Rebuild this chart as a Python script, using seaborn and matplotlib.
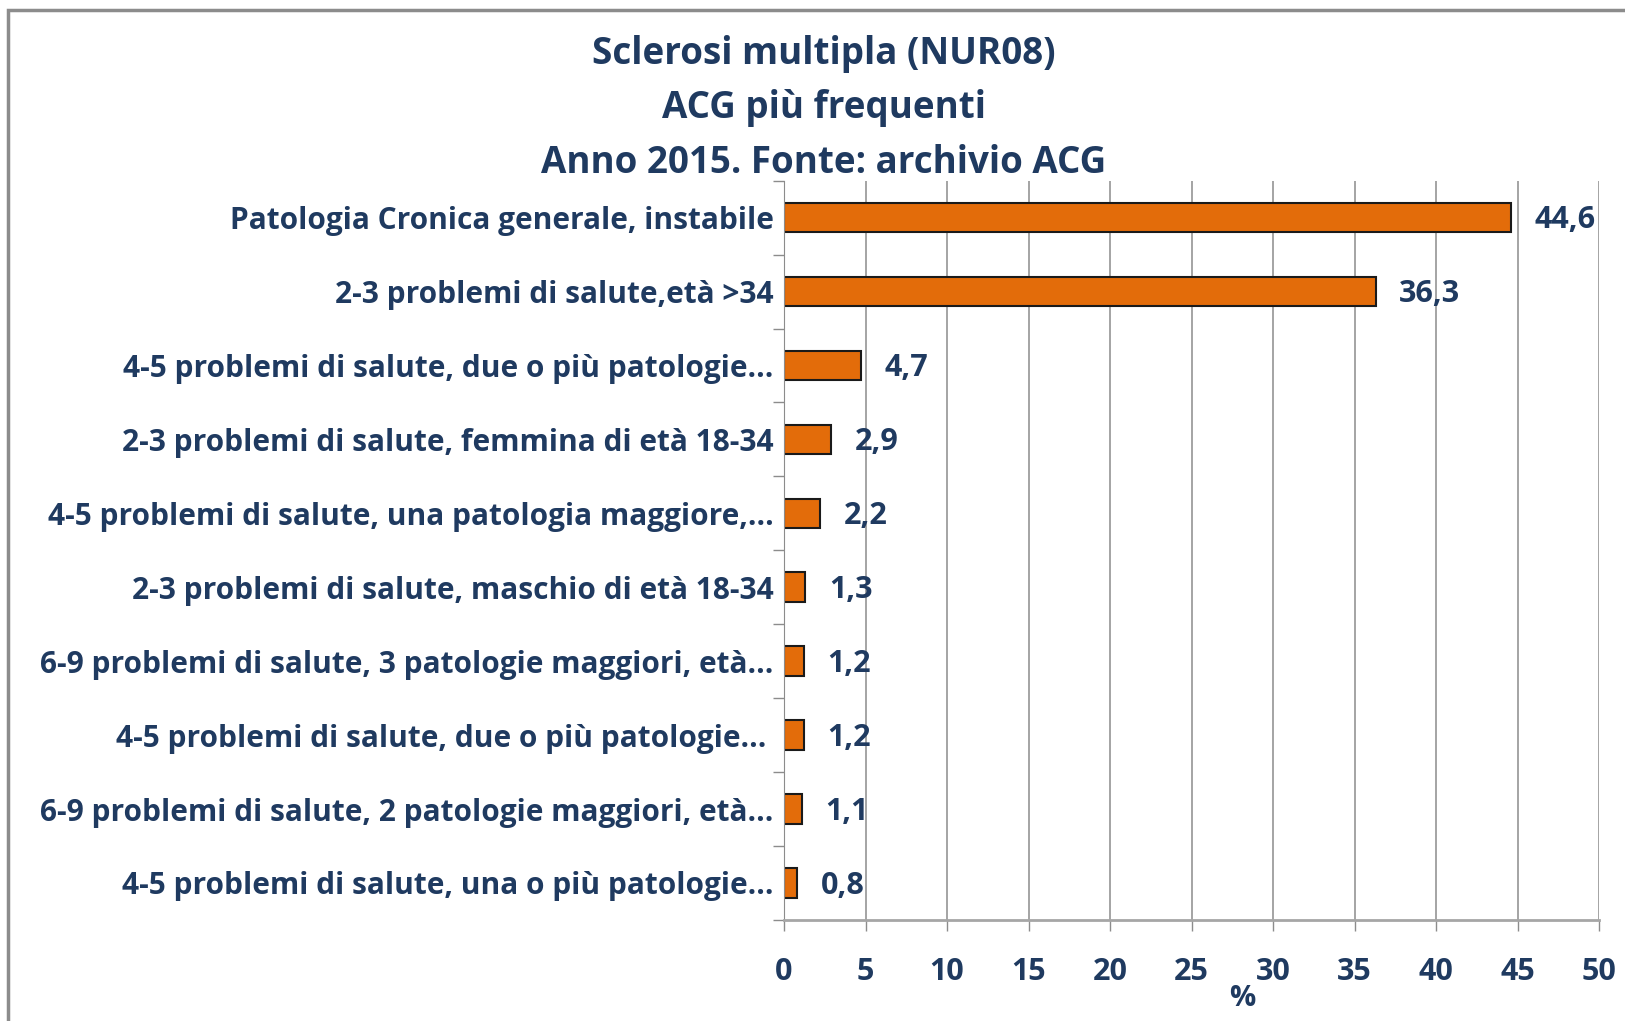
import matplotlib
matplotlib.use('Agg')
import matplotlib.pyplot as plt
import seaborn as sns
import pandas as pd
from matplotlib.patches import Rectangle

categorie = ['Patologia Cronica generale, instabile',
             '2-3 problemi di salute,età >34',
             '4-5 problemi di salute, due o più patologie...',
             '2-3 problemi di salute, femmina di età 18-34',
             '4-5 problemi di salute, una patologia maggiore,...',
             '2-3 problemi di salute, maschio di età 18-34',
             '6-9 problemi di salute, 3 patologie maggiori, età...',
             '4-5 problemi di salute, due o più patologie... ',
             '6-9 problemi di salute, 2 patologie maggiori, età...',
             '4-5 problemi di salute, una o più patologie...']
valori = [44.6, 36.3, 4.7, 2.9, 2.2, 1.3, 1.2, 1.2, 1.1, 0.8]
x_ticks = [0, 5, 10, 15, 20, 25, 30, 35, 40, 45, 50]

blu = '#1F3A60'
arancio = '#E36C0A'

sns.set_style('white')
plt.rcParams['font.family'] = ['Open Sans', 'DejaVu Sans']
plt.rcParams['font.weight'] = 'bold'

df = pd.DataFrame({'categoria': categorie, 'valore': valori})

fig = plt.figure(figsize=(16.25, 10.21), dpi=100)
ax = fig.add_axes([0.4825, 0.099, 0.5015, 0.724])

sns.barplot(data=df, y='categoria', x='valore', color=arancio, orient='h',
            width=0.4, edgecolor='#1a1a1a', linewidth=1.5, saturation=1, ax=ax)

ax.set_xlim(0, 50)
ax.set_ylim(len(categorie) - 0.5, -0.5)
ax.set_xticks(x_ticks)
ax.set_xticklabels([str(t) for t in x_ticks])
ax.grid(axis='x', color='#8c8c8c', linewidth=1.1)
ax.set_axisbelow(True)

for s in ['top', 'right']:
    ax.spines[s].set_visible(False)
ax.spines['left'].set_color('#8c8c8c')
ax.spines['bottom'].set_color('#a6a6a6')
ax.spines['bottom'].set_linewidth(2)

ax.tick_params(axis='x', colors=blu, labelsize=22, length=8, width=1, pad=19,
               direction='out', bottom=True, color='#8c8c8c')
ax.tick_params(axis='y', which='major', left=False, labelsize=21.5, labelcolor=blu, pad=4)
ax.set_yticks([i + 0.5 for i in range(-1, len(categorie))], minor=True)
ax.tick_params(axis='y', which='minor', left=True, length=8, width=1, color='#8c8c8c')

for lab in ax.get_xticklabels() + ax.get_yticklabels():
    lab.set_fontweight('bold')

for i, v in enumerate(valori):
    ax.annotate(f'{v:.1f}'.replace('.', ','), xy=(v, i), xytext=(17, -2),
                textcoords='offset points', va='center', ha='left',
                fontsize=22, color=blu, fontweight='bold')

ax.set_ylabel('')
ax.set_xlabel('%', fontsize=21, color=blu, fontweight='bold')
ax.xaxis.set_label_coords(0.562, -0.087)

fig.text(0.507, 0.947, 'Sclerosi multipla (NUR08)', ha='center', va='center',
         fontsize=26.5, color=blu, fontweight='bold')
fig.text(0.507, 0.894, 'ACG più frequenti', ha='center', va='center',
         fontsize=26.5, color=blu, fontweight='bold')
fig.text(0.507, 0.840, 'Anno 2015. Fonte: archivio ACG', ha='center', va='center',
         fontsize=26.5, color=blu, fontweight='bold')

fig.patches.append(Rectangle((0.005, -0.1), 1.2, 1.09, transform=fig.transFigure,
                             fill=False, edgecolor='#8c8c8c', linewidth=2.5))

fig.savefig('out.png', dpi=100)
